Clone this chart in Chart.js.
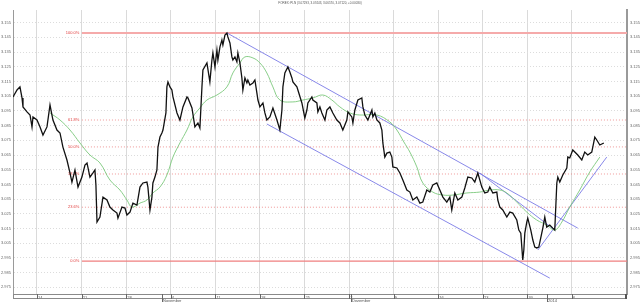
<!DOCTYPE html>
<html>
<head>
<meta charset="utf-8">
<script src="https://cdn.jsdelivr.net/npm/chart.js@4"></script>
<style>
  html, body { margin: 0; padding: 0; background: #fff; }
  #chart { display: block; }
</style>
</head>
<body>
<canvas id="chart" width="640" height="302"></canvas>
<script>
'use strict';

// x = trading days counted from Monday 14 Oct 2013
let priceDays = [
  -2.69, -2.24, -1.91, -1.68, -1.57, -1.12, -0.78, -0.56, -0.45, 0.00,
  0.34, 0.67, 1.12, 1.46, 1.79, 2.24, 2.58, 2.91, 3.36, 3.70,
  3.92, 4.26, 4.60, 5.04, 5.38, 5.61, 5.94, 6.28, 6.50, 6.61,
  6.73, 7.06, 7.40, 7.85, 8.18, 8.52, 8.97, 9.08, 9.53, 9.87,
  10.09, 10.43, 10.76, 11.21, 11.55, 11.88, 12.33, 12.44, 12.67, 12.89,
  13.00, 13.23, 13.45, 13.57, 13.79, 14.01, 14.13, 14.46, 14.57, 14.69,
  14.91, 15.13, 15.25, 15.70, 16.03, 16.37, 16.82, 16.93, 17.38, 17.71,
  18.05, 18.27, 18.50, 18.61, 19.06, 19.39, 19.62, 19.73, 19.96, 20.18,
  20.29, 20.52, 20.74, 20.85, 21.08, 21.30, 21.41, 21.64, 21.86, 21.97,
  22.20, 22.42, 22.53, 22.76, 22.98, 23.09, 23.32, 23.54, 23.65, 23.88,
  24.22, 24.44, 24.66, 24.78, 25.00, 25.34, 25.56, 25.78, 26.12, 26.46,
  26.91, 27.24, 27.47, 27.58, 27.80, 28.14, 28.36, 28.59, 28.70, 29.15,
  29.26, 29.71, 30.04, 30.27, 30.38, 30.83, 30.94, 31.39, 31.50, 31.73,
  31.95, 32.29, 32.51, 32.85, 33.18, 33.63, 33.97, 34.30, 34.75, 34.87,
  35.31, 35.43, 35.65, 35.99, 36.43, 36.55, 36.77, 37.11, 37.56, 37.67,
  37.89, 38.12, 38.45, 38.68, 38.79, 39.01, 39.24, 39.57, 39.80, 39.91,
  40.36, 40.70, 41.03, 41.48, 41.82, 42.15, 42.60, 42.94, 43.27, 43.72,
  44.06, 44.39, 44.84, 45.18, 45.52, 45.96, 46.30, 46.52, 46.86, 47.20,
  47.65, 47.98, 48.32, 48.77, 49.10, 49.44, 49.89, 50.22, 50.56, 50.78,
  51.12, 51.57, 51.68, 51.91, 52.24, 52.69, 53.03, 53.36, 53.81, 54.04,
  54.26, 54.48, 54.60, 54.71, 54.93, 55.04, 55.38, 55.61, 55.83, 56.05,
  56.28, 56.61, 56.73, 56.95, 57.17, 57.51, 57.85, 58.07, 58.30, 58.41,
  58.63, 58.97, 59.42, 59.53, 59.75, 60.09, 60.65, 61.10, 61.43, 61.77,
  62.22, 62.56, 62.78, 63.12, 63.57
];
let prices = [
  3.1045, 3.1092, 3.1113, 3.1038, 3.0977, 3.0943, 3.0922, 3.0841, 3.0909, 3.0888,
  3.0841, 3.0786, 3.0841, 3.0990, 3.0888, 3.0820, 3.0800, 3.0704, 3.0616, 3.0528,
  3.0466, 3.0548, 3.0432, 3.0500, 3.0582, 3.0596, 3.0500, 3.0528, 3.0548, 3.0446,
  3.0194, 3.0228, 3.0364, 3.0344, 3.0296, 3.0276, 3.0255, 3.0221, 3.0296, 3.0289,
  3.0242, 3.0262, 3.0323, 3.0310, 3.0432, 3.0460, 3.0466, 3.0432, 3.0276, 3.0364,
  3.0460, 3.0500, 3.0548, 3.0704, 3.0772, 3.0800, 3.0820, 3.0936, 3.1113, 3.1147,
  3.1113, 3.1092, 3.1045, 3.0936, 3.0888, 3.0977, 3.1045, 3.1038, 3.0970, 3.0841,
  3.0868, 3.0834, 3.1113, 3.1228, 3.1276, 3.1147, 3.1296, 3.1344, 3.1249, 3.1364,
  3.1296, 3.1385, 3.1432, 3.1398, 3.1466, 3.1480, 3.1453, 3.1412, 3.1317, 3.1296,
  3.1317, 3.1283, 3.1344, 3.1276, 3.1174, 3.1092, 3.1174, 3.1140, 3.1160, 3.1126,
  3.1140, 3.1160, 3.1072, 3.1024, 3.0977, 3.1004, 3.0936, 3.0888, 3.0909, 3.0970,
  3.0888, 3.0820, 3.0956, 3.1113, 3.1208, 3.1249, 3.1215, 3.1174, 3.1147, 3.1113,
  3.1092, 3.1004, 3.0902, 3.0956, 3.1004, 3.1045, 3.1024, 3.1004, 3.0943, 3.0977,
  3.0936, 3.0888, 3.0956, 3.0977, 3.0936, 3.0888, 3.0868, 3.0820, 3.0888, 3.0943,
  3.0909, 3.0868, 3.0956, 3.1024, 3.1038, 3.0977, 3.0922, 3.0888, 3.0956, 3.0909,
  3.0936, 3.0888, 3.0868, 3.0820, 3.0732, 3.0636, 3.0663, 3.0670, 3.0636, 3.0569,
  3.0562, 3.0528, 3.0480, 3.0412, 3.0398, 3.0344, 3.0364, 3.0323, 3.0330, 3.0412,
  3.0398, 3.0446, 3.0460, 3.0412, 3.0364, 3.0330, 3.0364, 3.0276, 3.0392, 3.0344,
  3.0364, 3.0426, 3.0500, 3.0494, 3.0466, 3.0528, 3.0432, 3.0392, 3.0398, 3.0432,
  3.0392, 3.0398, 3.0344, 3.0296, 3.0276, 3.0228, 3.0262, 3.0255, 3.0208, 3.0140,
  3.0119, 2.9936, 3.0004, 3.0119, 3.0194, 3.0221, 3.0140, 3.0072, 3.0024, 3.0018,
  3.0024, 3.0119, 3.0153, 3.0228, 3.0160, 3.0174, 3.0153, 3.0140, 3.0460, 3.0500,
  3.0466, 3.0514, 3.0562, 3.0636, 3.0630, 3.0684, 3.0650, 3.0616, 3.0670, 3.0650,
  3.0670, 3.0772, 3.0752, 3.0718, 3.0732
];

// moving average (green)
let maDays = [
  1.46, 2.58, 3.70, 4.82, 5.94, 7.06, 8.18, 9.30, 10.09, 10.65,
  11.55, 12.33, 13.00, 13.79, 14.57, 15.25, 16.03, 16.82, 17.49, 18.27,
  19.06, 20.18, 21.30, 21.97, 22.76, 23.32, 24.22, 25.00, 25.78, 26.46,
  27.24, 28.70, 29.82, 30.94, 32.06, 33.07, 33.97, 35.09, 36.21, 38.12,
  39.57, 40.36, 41.14, 41.82, 42.60, 43.27, 44.39, 45.52, 46.64, 48.21,
  49.66, 50.78, 51.91, 52.69, 53.81, 54.93, 56.05, 57.17, 58.07, 58.86,
  59.75, 60.87, 61.99, 63.12
];
let maValues = [
  3.0936, 3.0888, 3.0820, 3.0732, 3.0650, 3.0596, 3.0480, 3.0412, 3.0344, 3.0296,
  3.0323, 3.0344, 3.0392, 3.0432, 3.0514, 3.0636, 3.0732, 3.0820, 3.0909, 3.0970,
  3.1024, 3.1058, 3.1113, 3.1208, 3.1276, 3.1317, 3.1310, 3.1276, 3.1208, 3.1113,
  3.1024, 3.1011, 3.1024, 3.1038, 3.1058, 3.1024, 3.0977, 3.0936, 3.0922, 3.0922,
  3.0875, 3.0820, 3.0739, 3.0670, 3.0569, 3.0460, 3.0398, 3.0378, 3.0378, 3.0392,
  3.0398, 3.0412, 3.0412, 3.0392, 3.0330, 3.0262, 3.0208, 3.0174, 3.0140, 3.0194,
  3.0296, 3.0412, 3.0534, 3.0636
];

// trend lines
let upperChannelDays = [21.30, 60.65];
let upperChannelValues = [3.1480, 3.0153];
let lowerChannelDays = [25.78, 57.51];
let lowerChannelValues = [3.0861, 2.9813];
let innerLineDays = [49.66, 58.07];
let innerLineValues = [3.0528, 3.0140];
let supportLineDays = [56.17, 63.90];
let supportLineValues = [3.0004, 3.0636];

// fibonacci retracement
let fibNames = ['0.0%', '23.6%', '38.2%', '50.0%', '61.8%', '100.0%'];
let fibLevels = [2.9929, 3.0295, 3.0521, 3.0705, 3.0888, 3.1480];
let fibStartDay = 5.04;
let fibLabelDay = 4.75;

// axes
let weekTickDays = [0, 5, 10, 15, 20, 25, 30, 35, 40, 45, 50, 55, 60];
let weekTickLabels = ['14', '21', '28', '4', '11', '18', '25', '2', '9', '16', '23', '30', '6'];
let monthDays = [14.0, 35.2, 57.2];
let monthNames = ['November', 'Dezember', '2014'];
let yTickFirst = 2.975;
let yTickLast = 3.160;
let yTickStep = 0.005;
let xMin = -2.69;
let xMax = 66.17;
let yMin = 2.9705;
let yMax = 3.1636;

let titleText = 'FOREX: PLN (3.07293, 3.07443, 3.06570, 3.07120, +0.00030)';
let tinyFont = '"Liberation Sans", Arial, sans-serif';

function points(days, values) {
  return days.map((d, i) => ({ x: d, y: values[i] }));
}

function trend(days, values) {
  return {
    data: points(days, values),
    borderColor: '#7b7be6',
    borderWidth: 0.9,
    pointRadius: 0,
    tension: 0
  };
}

function fibSet(i) {
  let top = i === fibLevels.length - 1;
  let solid = i === 0 || top;
  return {
    data: [{ x: fibStartDay, y: fibLevels[i] }, { x: xMax, y: fibLevels[i] }],
    borderColor: top ? '#f5aaaa' : (solid ? '#ef7f7f' : 'rgba(232, 110, 110, 0.7)'),
    borderWidth: top ? 2 : (solid ? 1.2 : 1),
    borderDash: solid ? [] : [1, 2],
    pointRadius: 0
  };
}

function yTicks() {
  let t = [];
  for (let v = yTickFirst; v <= yTickLast + 1e-9; v += yTickStep) {
    t.push({ value: Math.round(v * 1000) / 1000 });
  }
  return t;
}

let decorations = {
  id: 'decorations',
  beforeDatasetsDraw(chart) {
    let ctx = chart.ctx;
    let x = chart.scales.x;
    let y = chart.scales.y;
    ctx.save();
    ctx.font = '4px ' + tinyFont;
    ctx.fillStyle = '#e03c3c';
    ctx.textAlign = 'right';
    ctx.textBaseline = 'middle';
    for (let i = 0; i < fibNames.length; i++) {
      ctx.fillText(fibNames[i], x.getPixelForValue(fibLabelDay), y.getPixelForValue(fibLevels[i]));
    }
    ctx.restore();
  },
  afterDraw(chart) {
    let ctx = chart.ctx;
    let area = chart.chartArea;
    let x = chart.scales.x;
    ctx.save();
    ctx.font = '3px ' + tinyFont;
    ctx.fillStyle = '#555';
    ctx.textAlign = 'center';
    ctx.textBaseline = 'middle';
    ctx.fillText(titleText, 320, 3.5);

    // date bar under the plot
    ctx.strokeStyle = '#8a8a8a';
    ctx.lineWidth = 1;
    ctx.strokeRect(area.left + 0.5, area.bottom + 0.5, area.right - area.left - 1, 4);
    ctx.fillStyle = '#666';
    for (let i = 0; i < weekTickDays.length; i++) {
      let px = Math.round(x.getPixelForValue(weekTickDays[i]));
      ctx.fillRect(px, area.bottom, 1, 5);
    }
    ctx.font = '4px ' + tinyFont;
    ctx.textAlign = 'left';
    ctx.textBaseline = 'top';
    for (let i = 0; i < monthNames.length; i++) {
      let px = Math.round(x.getPixelForValue(monthDays[i]));
      ctx.fillStyle = '#666';
      ctx.fillRect(px, area.bottom, 1, 8);
      ctx.fillStyle = '#555';
      ctx.fillText(monthNames[i], px + 1, area.bottom + 5);
    }
    ctx.fillRect(area.right - 2, area.bottom, 2, 5);
    ctx.restore();
  }
};

let datasets = [
  {
    data: points(priceDays, prices),
    borderColor: '#111',
    borderWidth: 1.3,
    pointRadius: 0,
    tension: 0
  },
  {
    data: points(maDays, maValues),
    borderColor: '#7cc87c',
    borderWidth: 0.9,
    pointRadius: 0,
    tension: 0.4
  },
  trend(upperChannelDays, upperChannelValues),
  trend(lowerChannelDays, lowerChannelValues),
  trend(innerLineDays, innerLineValues),
  trend(supportLineDays, supportLineValues)
];
for (let i = 0; i < fibLevels.length; i++) {
  datasets.push(fibSet(i));
}

let yTickOptions = {
  font: { size: 4, family: tinyFont },
  color: '#666',
  callback: (v) => v.toFixed(3)
};

new Chart(document.getElementById('chart'), {
  type: 'line',
  data: { datasets: datasets },
  plugins: [decorations],
  options: {
    responsive: false,
    animation: false,
    devicePixelRatio: 1,
    layout: { padding: { top: 10, left: 0, right: 0, bottom: 0 } },
    plugins: {
      legend: { display: false },
      tooltip: { enabled: false }
    },
    scales: {
      x: {
        type: 'linear',
        min: xMin,
        max: xMax,
        afterBuildTicks: (scale) => { scale.ticks = weekTickDays.map((v) => ({ value: v })); },
        afterFit: (scale) => { scale.height = 8; },
        grid: { color: '#dadada', lineWidth: 1, drawTicks: false },
        border: { display: false },
        ticks: {
          autoSkip: false,
          maxRotation: 0,
          align: 'start',
          padding: 1,
          font: { size: 4, family: tinyFont },
          color: '#555',
          callback: (v, i) => ' ' + weekTickLabels[i]
        }
      },
      y: {
        position: 'left',
        min: yMin,
        max: yMax,
        afterBuildTicks: (scale) => { scale.ticks = yTicks(); },
        afterFit: (scale) => { scale.width = 13; },
        grid: { color: '#dcdcdc', lineWidth: 1, drawTicks: false },
        border: { display: true, color: '#9a9a9a', dash: [1, 2] },
        ticks: Object.assign({ padding: 2 }, yTickOptions)
      },
      y2: {
        position: 'right',
        min: yMin,
        max: yMax,
        afterBuildTicks: (scale) => { scale.ticks = yTicks(); },
        afterFit: (scale) => { scale.width = 13; },
        grid: { display: false, drawTicks: false },
        border: { display: true, color: '#9a9a9a', width: 2 },
        ticks: Object.assign({ padding: 3 }, yTickOptions)
      }
    }
  }
});
</script>
</body>
</html>
